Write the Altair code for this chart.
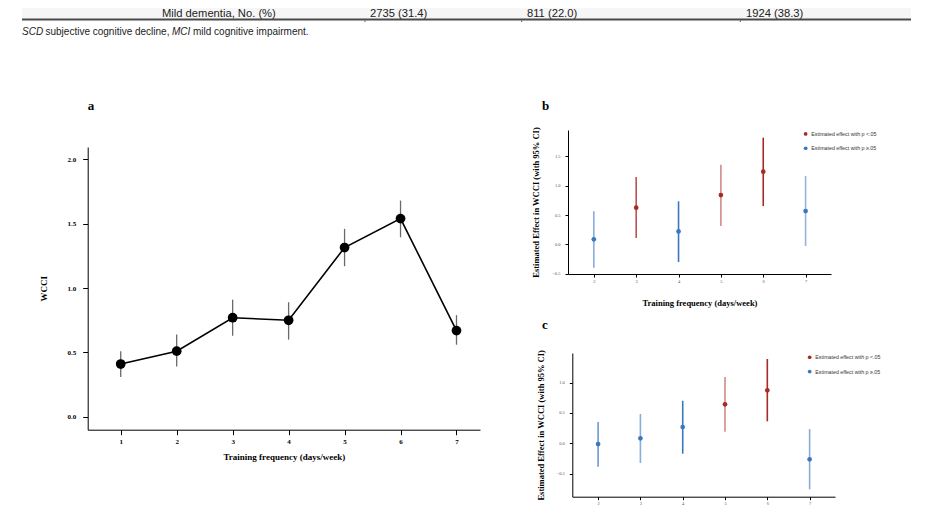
import altair as alt
import pandas as pd

# ---------------- data ----------------
row_cells = ["Mild dementia, No. (%)", "2735 (31.4)", "811 (22.0)", "1924 (38.3)"]
foot_italic = ["SCD", "MCI"]
foot_plain = ["subjective cognitive decline,", "mild cognitive impairment."]

freq_a = [1, 2, 3, 4, 5, 6, 7]
wcci_mean = [0.41, 0.51, 0.77, 0.75, 1.315, 1.54, 0.67]
wcci_lo = [0.31, 0.39, 0.63, 0.60, 1.17, 1.395, 0.56]
wcci_hi = [0.51, 0.64, 0.91, 0.89, 1.46, 1.68, 0.79]

freq_bc = [2, 3, 4, 5, 6, 7]
b_est = [0.085, 0.625, 0.221, 0.84, 1.238, 0.567]
b_lo = [-0.397, 0.107, -0.302, 0.312, 0.652, -0.029]
b_hi = [0.562, 1.147, 0.733, 1.358, 1.818, 1.164]
b_sig = [False, True, False, True, True, False]
b_weight = [0.6, 0.8, 1.0, 0.55, 1.0, 0.55]

c_est = [-0.012, 0.082, 0.269, 0.643, 0.874, -0.264]
c_lo = [-0.386, -0.325, -0.171, 0.191, 0.363, -0.758]
c_hi = [0.351, 0.483, 0.702, 1.093, 1.39, 0.236]
c_sig = [False, False, False, True, True, False]
c_weight = [0.75, 0.6, 1.0, 0.55, 1.0, 0.6]

sig_labels = ["Estimated effect with p <.05", "Estimated effect with p \u2265.05"]
x_title = "Training frequency (days/week)"
y_title_a = "WCCI"
y_title_bc = "Estimated Effect in WCCI (with 95% CI)"
panel_letters = ["a", "b", "c"]

SERIF = "Liberation Serif"
SANS = "Liberation Sans"
RED = "#a82a27"
BLUE = "#3b77bf"
W, H = 923, 501


def text_layer(txt, x, y, **kw):
    return alt.Chart(pd.DataFrame({"t": [txt]})).mark_text(**kw).encode(
        text="t:N", x=alt.value(x), y=alt.value(y)
    )


def letter(ch, x, y):
    return text_layer(ch, x, y, font=SERIF, fontWeight="bold", fontSize=13, align="center",
                      baseline="middle", color="black")


# ---------------- header ----------------
one = pd.DataFrame({"k": [0]})
hdr_bg = alt.Chart(one).mark_rect(color="#f6f6f6").encode(
    x=alt.value(14), x2=alt.value(903), y=alt.value(0), y2=alt.value(11)
)
hdr_rule = alt.Chart(one).mark_rule(color="#4a4a4a", strokeWidth=2).encode(
    x=alt.value(14), x2=alt.value(903), y=alt.value(11.6)
)
hdr_seps = [
    alt.Chart(one).mark_rule(color="#555", strokeWidth=1).encode(
        x=alt.value(sx), y=alt.value(12.5), y2=alt.value(14)
    )
    for sx in (357, 513.7, 732.3)
]
row_x = [154, 362, 519, 738]
hdr_rows = [
    text_layer(t, x, 6, font=SANS, fontSize=11.2, align="left", baseline="middle", color="#222")
    for t, x in zip(row_cells, row_x)
]
foot_kw = dict(font=SANS, fontSize=10, align="left", baseline="middle", color="#222")
foot = [
    text_layer(foot_italic[0], 14, 23.7, fontStyle="italic", **foot_kw),
    text_layer(foot_plain[0], 37.5, 23.7, **foot_kw),
    text_layer(foot_italic[1], 164, 23.7, fontStyle="italic", **foot_kw),
    text_layer(foot_plain[1], 185, 23.7, **foot_kw),
]
header = alt.layer(hdr_bg, hdr_rule, *hdr_seps, *hdr_rows, *foot)

# ---------------- panel a ----------------
df_a = pd.DataFrame({"freq": freq_a, "mean": wcci_mean, "lo": wcci_lo, "hi": wcci_hi})
xs_a = alt.Scale(domain=[0.41, 7.42], range=[79.7, 472], nice=False, zero=False)
ys_a = alt.Scale(domain=[-0.10, 2.096], range=[421.7, 139], nice=False, zero=False)
xax_a = alt.Axis(
    orient="bottom", offset=421.7 - H, values=freq_a, format="d", grid=False, labelFont=SERIF,
    labelFontWeight="bold", labelFontSize=7, labelColor="black", tickColor="black", tickSize=5,
    labelPadding=3, domainColor="black", titleFont=SERIF, titleFontWeight="bold", titleFontSize=9,
    titleColor="black", titlePadding=8,
)
yax_a = alt.Axis(
    orient="left", offset=-79.7, values=[0, 0.5, 1.0, 1.5, 2.0], format=".1f", grid=False,
    labelFont=SERIF, labelFontWeight="bold", labelFontSize=7, labelColor="black", tickColor="black",
    tickSize=5, labelPadding=7, domainColor="black", titleFont=SERIF, titleFontWeight="bold",
    titleFontSize=9, titleColor="black", titlePadding=18,
)
base_a = alt.Chart(df_a)
err_a = base_a.mark_rule(color="#6a6a6a", strokeWidth=1.3).encode(
    x=alt.X("freq:Q", scale=xs_a, axis=xax_a, title=x_title),
    y=alt.Y("lo:Q", scale=ys_a, axis=yax_a, title=y_title_a),
    y2="hi:Q",
)
line_a = base_a.mark_line(color="black", strokeWidth=1.6).encode(
    x=alt.X("freq:Q", scale=xs_a, axis=xax_a, title=x_title),
    y=alt.Y("mean:Q", scale=ys_a, axis=yax_a, title=y_title_a),
)
pts_a = base_a.mark_circle(color="black", size=95, opacity=1).encode(
    x=alt.X("freq:Q", scale=xs_a, axis=xax_a, title=x_title),
    y=alt.Y("mean:Q", scale=ys_a, axis=yax_a, title=y_title_a),
)
panel_a = alt.layer(err_a, line_a, pts_a)


# ---------------- panels b, c ----------------
def effect_panel(est, lo, hi, sig, weight, ydom, yvals, x0, x1, ybot, ytop, legx, legy):
    df = pd.DataFrame({
        "freq": freq_bc, "est": est, "lo": lo, "hi": hi,
        "sig": [sig_labels[0] if s else sig_labels[1] for s in sig], "w": weight,
    })
    xs = alt.Scale(domain=[1.39, 7.6], range=[x0, x1], nice=False, zero=False)
    ys = alt.Scale(domain=ydom, range=[ybot, ytop], nice=False, zero=False)
    xax = alt.Axis(
        orient="bottom", offset=ybot - H, values=freq_bc, format="d", grid=False, labelFont=SERIF,
        labelFontSize=4.5, labelColor="#555", tickColor="black", tickSize=3, labelPadding=1,
        domainColor="black", titleFont=SERIF, titleFontWeight="bold", titleFontSize=8.5,
        titleColor="black", titlePadding=16,
    )
    yax = alt.Axis(
        orient="left", offset=-x0, values=yvals, format=".1f", grid=False, labelFont=SERIF,
        labelFontSize=4.5, labelColor="#555", tickColor="black", tickSize=3, labelPadding=5,
        domainColor="black", titleFont=SERIF, titleFontWeight="bold", titleFontSize=8.5,
        titleColor="black", titlePadding=11,
    )
    leg = alt.Legend(
        orient="none", legendX=legx, legendY=legy, title=None, symbolType="circle", symbolSize=14,
        symbolStrokeWidth=0, symbolOpacity=1, labelFont=SANS, labelFontSize=5.3, labelColor="#333",
        labelOffset=3, rowPadding=8.3, padding=0,
    )
    cscale = alt.Scale(domain=sig_labels, range=[RED, BLUE])
    base = alt.Chart(df)
    bars = base.mark_rule(strokeWidth=1.6).encode(
        x=alt.X("freq:Q", scale=xs, axis=xax, title=x_title),
        y=alt.Y("lo:Q", scale=ys, axis=yax, title=y_title_bc),
        y2="hi:Q",
        color=alt.Color("sig:N", scale=cscale, legend=leg),
        opacity=alt.Opacity("w:Q", scale=alt.Scale(domain=[0, 1], range=[0, 1]), legend=None),
    )
    pts = base.mark_circle(size=22, opacity=1).encode(
        x=alt.X("freq:Q", scale=xs, axis=xax, title=x_title),
        y=alt.Y("est:Q", scale=ys, axis=yax, title=y_title_bc),
        color=alt.Color("sig:N", scale=cscale, legend=leg),
    )
    return alt.layer(bars, pts)


panel_b = effect_panel(b_est, b_lo, b_hi, b_sig, b_weight, [-0.505, 1.948], [-0.5, 0, 0.5, 1.0, 1.5],
                       560, 823, 266, 122, 795, 123.3)
panel_c = effect_panel(c_est, c_lo, c_hi, c_sig, c_weight, [-0.88, 1.489], [-0.5, 0, 0.5, 1.0],
                       564.3, 827, 488.7, 345, 799, 346.6)

letters = alt.layer(
    letter(panel_letters[0], 83, 98),
    letter(panel_letters[1], 537.5, 98),
    letter(panel_letters[2], 537, 317),
)

chart = alt.layer(header, panel_a, panel_b, panel_c, letters).resolve_scale(
    x="independent", y="independent", color="independent", opacity="independent"
).resolve_axis(x="independent", y="independent").resolve_legend(color="independent").properties(
    width=W, height=H, padding=0, autosize=alt.AutoSizeParams(type="none"), background="white",
).configure_view(stroke=None)

chart.save("out.html", embed_options={"renderer": "svg", "actions": False})
